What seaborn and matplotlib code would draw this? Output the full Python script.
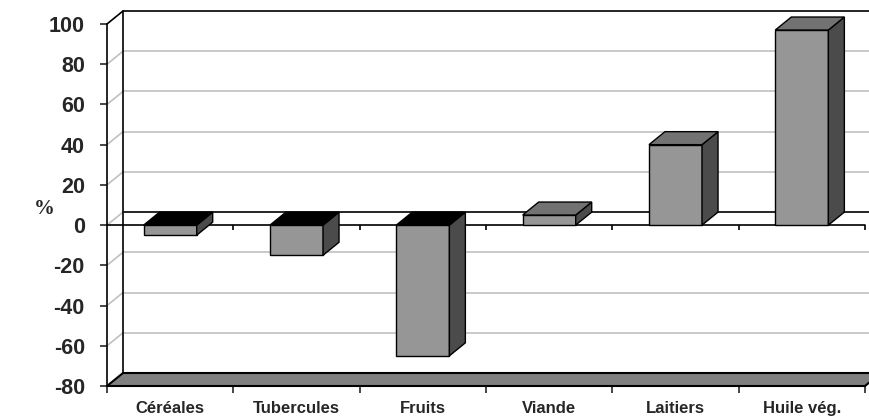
import matplotlib
matplotlib.use("Agg")
import matplotlib.pyplot as plt
from matplotlib import font_manager
from matplotlib.patches import Polygon
import numpy as np
import seaborn as sns

# -------------------------------------------------------------------------
# DATA
# -------------------------------------------------------------------------
categories = ["Céréales", "Tubercules", "Fruits", "Viande", "Laitiers", "Huile vég."]
values = [-5, -15, -65, 5, 40, 97]
y_ticks = [-80, -60, -40, -20, 0, 20, 40, 60, 80, 100]

# colours of the excel-like 3d look
FRONT = "#969696"
SIDE = "#4b4b4b"
TOP_POS = "#727272"
TOP_NEG = "#000000"
FLOOR = "#808080"
GRID = "#c0c0c0"

sns.set_style("white")

# the original uses a narrow bold face; use it if installed
installed = {f.name for f in font_manager.fontManager.ttflist}
if "Liberation Sans Narrow" in installed:
    FAMILY = ["Liberation Sans Narrow", "DejaVu Sans"]
    Y_SIZE, X_SIZE = 16.5, 13.5
else:
    FAMILY = ["Liberation Sans", "DejaVu Sans"]
    Y_SIZE, X_SIZE = 15.5, 12
plt.rcParams["font.family"] = FAMILY
plt.rcParams["font.weight"] = "bold"

fig = plt.figure(figsize=(8.69, 4.20), dpi=100)
ax = fig.add_axes([107 / 869, 34 / 420, 758 / 869, 362 / 420])

sns.barplot(x=categories, y=values, color=FRONT, saturation=1, width=0.42,
            edgecolor="black", linewidth=1, ax=ax, zorder=5)

ymin, ymax = y_ticks[0], y_ticks[-1]
ax.set_xlim(-0.5, len(categories) - 0.5)
ax.set_ylim(ymin, ymax)

# depth offset of the 3d box, in pixels -> data units
ax_w = 758
ax_h = 362
DX = 16 / ax_w * len(categories)
DY = 13 / ax_h * (ymax - ymin)
x0, x1 = -0.5, len(categories) - 0.5

# back wall gridlines
for g in y_ticks[1:-1]:
    col = "black" if g == 0 else GRID
    ax.plot([x0 + DX, x1 + DX], [g + DY, g + DY], color=col, lw=1.2, clip_on=False, zorder=1)
    ax.plot([x0, x0 + DX], [g, g + DY], color=GRID, lw=1.2, clip_on=False, zorder=1)
# top edge and left back edge
ax.plot([x0, x0 + DX, x1 + DX], [ymax, ymax + DY, ymax + DY], color="black", lw=1.2,
        clip_on=False, zorder=2)
ax.plot([x0 + DX, x0 + DX], [ymin + DY, ymax + DY], color="black", lw=1.2,
        clip_on=False, zorder=2)

# floor
floor = Polygon([(x0, ymin), (x1, ymin), (x1 + DX, ymin + DY), (x0 + DX, ymin + DY)],
                closed=True, facecolor=FLOOR, edgecolor="black", lw=1.5, clip_on=False, zorder=3)
ax.add_patch(floor)

# front zero line with category ticks
ax.plot([x0, x1], [0, 0], color="black", lw=1.2, zorder=4, clip_on=False)
bounds = np.arange(x0, x1 + 0.01, 1.0)
ax.vlines(bounds[1:], -2.5, 0, color="black", lw=1.2, zorder=4, clip_on=False)

# 3d faces of the bars
for p, v in zip(ax.patches[:len(values)], values):
    bx, bw = p.get_x(), p.get_width()
    lo, hi = min(0, v), max(0, v)
    side = Polygon([(bx + bw, lo), (bx + bw, hi), (bx + bw + DX, hi + DY), (bx + bw + DX, lo + DY)],
                   closed=True, facecolor=SIDE, edgecolor="black", lw=1, zorder=6, clip_on=False)
    top = Polygon([(bx, hi), (bx + bw, hi), (bx + bw + DX, hi + DY), (bx + DX, hi + DY)],
                  closed=True, facecolor=TOP_POS if v > 0 else TOP_NEG,
                  edgecolor="black", lw=1, zorder=6, clip_on=False)
    ax.add_patch(side)
    ax.add_patch(top)

# axes styling
for s in ["top", "right"]:
    ax.spines[s].set_visible(False)
for s in ["left", "bottom"]:
    ax.spines[s].set_color("black")
    ax.spines[s].set_linewidth(1.2)
    ax.spines[s].set_zorder(7)

ax.set_yticks(y_ticks)
ax.set_yticklabels([str(t) for t in y_ticks], fontweight="bold")
ax.tick_params(axis="y", direction="out", length=5, width=1.2, pad=11, left=True,
               labelsize=Y_SIZE)
ax.set_xticks(range(len(categories)))
ax.set_xticklabels(categories, fontweight="bold")
ax.tick_params(axis="x", length=0, pad=11, labelsize=X_SIZE)
ax.set_xticks(bounds, minor=True)
ax.tick_params(axis="x", which="minor", direction="out", length=5, width=1.2, bottom=True)
ax.set_xlabel("")
ax.set_ylabel("")
ax.grid(False)

fig.text(44 / 869, 1 - 209 / 420, "%", fontsize=15, fontweight="bold",
         family=["Liberation Serif", "DejaVu Serif"], ha="center", va="center")

fig.savefig("out.png", dpi=100)
